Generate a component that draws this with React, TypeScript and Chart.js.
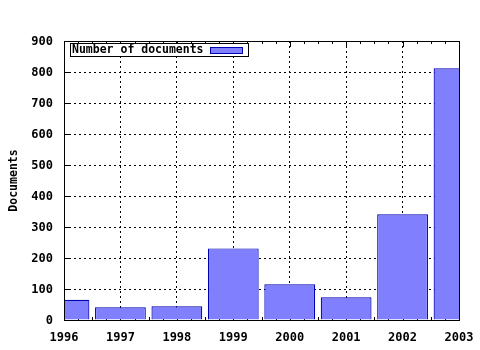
import React, { useEffect, useRef } from 'react';
import { Chart, registerables } from 'chart.js';

Chart.register(...registerables);

const years = [1996, 1997, 1998, 1999, 2000, 2001, 2002, 2003];
const documents = [65, 41, 44, 231, 115, 73, 341, 812];
const seriesLabel = 'Number of documents';
const yAxisTitle = 'Documents';
const yMin = 0;
const yMax = 900;
const yStep = 100;

const FONT = '"DejaVu Sans Mono", "Liberation Mono", monospace';
const FILL = '#8080ff';
const EDGE = '#0000b4';

const framePlugin = {
  id: 'gnuFrame',
  beforeDatasetsDraw(chart: any) {
    const ctx = chart.ctx;
    const { left, right, top, bottom } = chart.chartArea;
    const xs = chart.scales.x;
    const ys = chart.scales.y;
    ctx.save();
    ctx.strokeStyle = '#000';
    ctx.lineWidth = 1;
    ctx.beginPath();
    const xt = xs.ticks.map((t: any) => t.value);
    for (let i = 0; i < xt.length; i++) {
      const px = Math.round(xs.getPixelForValue(xt[i])) + 0.5;
      ctx.moveTo(px, bottom); ctx.lineTo(px, bottom - 6);
      ctx.moveTo(px, top); ctx.lineTo(px, top + 6);
      if (i < xt.length - 1) {
        for (let k = 1; k < 4; k++) {
          const v = xt[i] + (xt[i + 1] - xt[i]) * k / 4;
          const mp = Math.round(xs.getPixelForValue(v)) + 0.5;
          ctx.moveTo(mp, bottom); ctx.lineTo(mp, bottom - 3);
          ctx.moveTo(mp, top); ctx.lineTo(mp, top + 3);
        }
      }
    }
    ys.ticks.forEach((t: any) => {
      const py = Math.round(ys.getPixelForValue(t.value)) + 0.5;
      ctx.moveTo(left, py); ctx.lineTo(left + 6, py);
      ctx.moveTo(right, py); ctx.lineTo(right - 6, py);
    });
    ctx.stroke();
    ctx.restore();
  },
  afterDatasetsDraw(chart: any) {
    const ctx = chart.ctx;
    const { left, right, top, bottom } = chart.chartArea;
    ctx.save();
    ctx.strokeStyle = '#000';
    ctx.lineWidth = 1;
    ctx.strokeRect(Math.round(left) + 0.5, Math.round(top) + 0.5, Math.round(right - left), Math.round(bottom - top));
    // legend
    const lx = Math.round(left) + 6.5;
    const ly = Math.round(top) + 2.5;
    const lw = 178;
    const lh = 13;
    ctx.fillStyle = '#fff';
    ctx.fillRect(lx, ly, lw, lh);
    ctx.strokeRect(lx, ly, lw, lh);
    ctx.fillStyle = '#000';
    ctx.font = 'bold 11.5px ' + FONT;
    ctx.textAlign = 'left';
    ctx.textBaseline = 'middle';
    ctx.fillText(seriesLabel, lx + 1.5, ly + lh / 2 + 0.5);
    ctx.fillStyle = FILL;
    ctx.fillRect(lx + 140, ly + 4, 32, 6);
    ctx.strokeStyle = EDGE;
    ctx.strokeRect(lx + 140, ly + 4, 32, 6);
    ctx.restore();
  },
};

export default function App() {
  const ref = useRef<HTMLCanvasElement | null>(null);
  useEffect(() => {
    document.body.style.margin = '0';
    const canvas = ref.current;
    if (!canvas) return;
    const chart = new Chart(canvas, {
      type: 'bar',
      data: {
        datasets: [
          {
            label: seriesLabel,
            data: years.map((x, i) => ({ x, y: documents[i] })),
            backgroundColor: FILL,
            borderColor: EDGE,
            borderWidth: 1.2,
            barPercentage: 0.9,
            categoryPercentage: 1,
            clip: 0,
          } as any,
        ],
      },
      options: {
        animation: false,
        responsive: false,
        devicePixelRatio: 1,
        layout: { padding: { left: 0, right: 21, top: 41, bottom: 0 } },
        plugins: { legend: { display: false }, tooltip: { enabled: false } },
        scales: {
          x: {
            type: 'linear',
            offset: false,
            min: years[0],
            max: years[years.length - 1],
            afterFit: (s: any) => { s.height = 30; s.paddingLeft = 0; s.paddingRight = 0; },
            ticks: {
              stepSize: 1,
              autoSkip: false,
              maxRotation: 0,
              padding: 11,
              color: '#000',
              font: { family: FONT, weight: 'bold', size: 12 },
              callback: (v: any) => String(v),
            },
            grid: { color: '#000', drawTicks: false, lineWidth: 1, offset: false },
            border: { display: false, dash: [2, 3] },
          },
          y: {
            min: yMin,
            max: yMax,
            afterFit: (s: any) => { s.width = 64; s.paddingTop = 0; s.paddingBottom = 0; },
            ticks: {
              stepSize: yStep,
              padding: 11,
              labelOffset: 1,
              color: '#000',
              font: { family: FONT, weight: 'bold', size: 12 },
            },
            grid: { color: '#000', drawTicks: false, lineWidth: 1 },
            border: { display: false, dash: [2, 3] },
            title: {
              display: true,
              text: yAxisTitle,
              color: '#000',
              font: { family: FONT, weight: 'bold', size: 11.5 },
              padding: { top: 7, bottom: 0 },
            },
          },
        },
      } as any,
      plugins: [framePlugin],
    });
    return () => chart.destroy();
  }, []);
  return (
    <div style={{ position: 'fixed', left: 0, top: 0, width: 480, height: 350, background: '#fff' }}>
      <canvas ref={ref} width={480} height={350} style={{ display: 'block' }} />
    </div>
  );
}
